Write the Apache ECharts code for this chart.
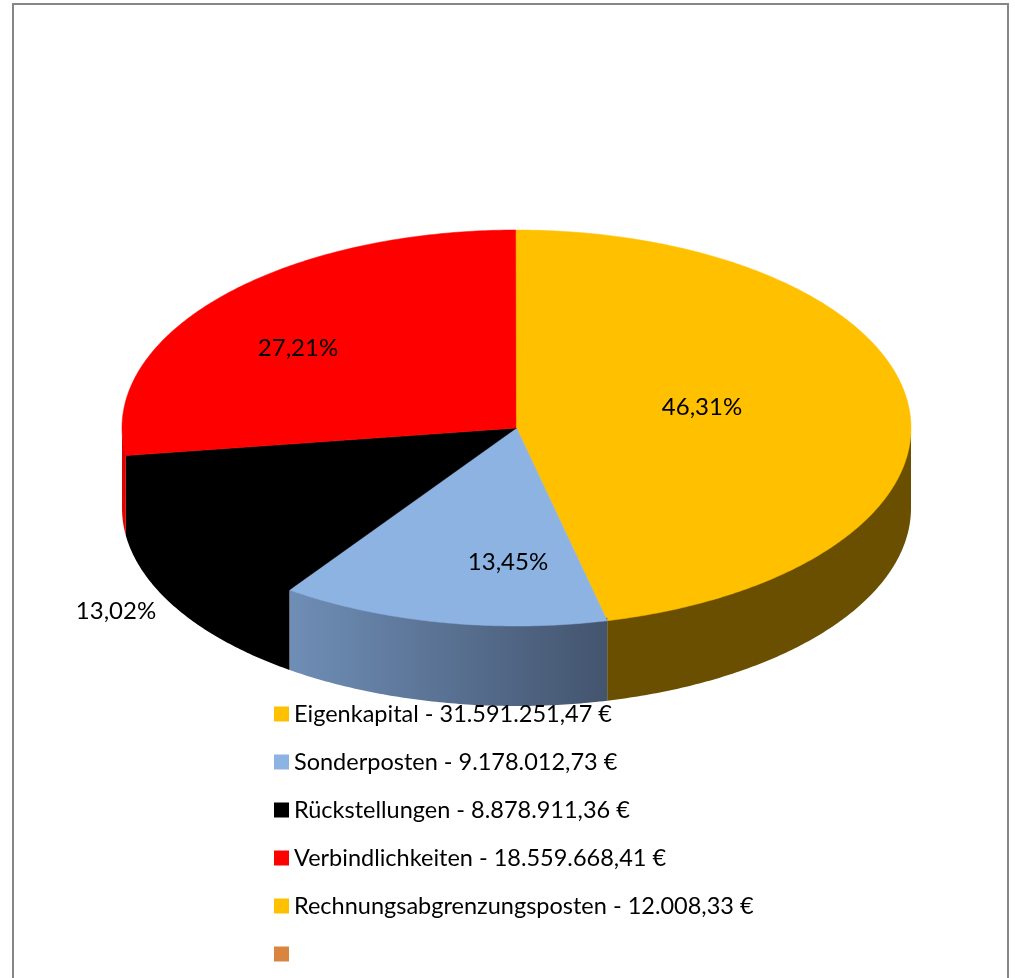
<!DOCTYPE html>
<html>
<head>
<meta charset="utf-8">
<style>
  html, body { margin: 0; padding: 0; background: #fff; }
  #chart { width: 1015px; height: 978px; }
</style>
<script src="https://cdn.jsdelivr.net/npm/echarts@6/dist/echarts.min.js"></script>
</head>
<body>
<div id="chart"></div>
<script>
// chart data
const categories = ['Eigenkapital', 'Sonderposten', 'Rückstellungen', 'Verbindlichkeiten', 'Rechnungsabgrenzungsposten']
const amounts = [31591251.47, 9178012.73, 8878911.36, 18559668.41, 12008.33]
const amountLabels = ['31.591.251,47 €', '9.178.012,73 €', '8.878.911,36 €', '18.559.668,41 €', '12.008,33 €']
const percentLabels = ['46,31%', '13,45%', '13,02%', '27,21%', '']

// styles
const topColors = ['#FFC000', '#8DB3E2', '#000000', '#FF0000', '#FFC000']
const emptyColor = '#D9853F'
const sideStops = [
  ['#6B4F00', '#6B4F00'],
  ['#6F8EB6', '#43546E'],
  ['#000000', '#000000'],
  ['#E00000', '#E00000'],
  ['#6B4F00', '#6B4F00']
]
const labelAnchors = [[702, 407], [508, 562], [116, 611], [298, 348], [0, 0]]

// pie geometry
const cx = 516.5
const cy = 428
const rx = 394.5
const ry = 198
const depth = 80
const FONT = 'Lato, "Open Sans", sans-serif'

const total = amounts.reduce((a, b) => a + b, 0)

function rimPoint(angle, drop) {
  return [cx + rx * Math.sin(angle), cy - ry * Math.cos(angle) + drop]
}

function arcPoints(from, to, drop) {
  const steps = Math.max(2, Math.ceil(Math.abs(to - from) / 0.01))
  const pts = []
  for (let i = 0; i <= steps; i++) {
    pts.push(rimPoint(from + (to - from) * i / steps, drop))
  }
  return pts
}

function sliceRange(index) {
  let before = 0
  for (let i = 0; i < index; i++) before += amounts[i]
  const start = before / total * Math.PI * 2
  return [start, start + amounts[index] / total * Math.PI * 2]
}

function renderSlice(index) {
  const [start, end] = sliceRange(index)
  const children = []

  // the wall is only seen on the front half of the rim
  const wallFrom = Math.max(start, Math.PI / 2)
  const wallTo = Math.min(end, Math.PI * 1.5)
  if (wallTo > wallFrom) {
    // starts a bit above the rim so no seam shows under the top face
    const wall = arcPoints(wallFrom, wallTo, -3).concat(arcPoints(wallTo, wallFrom, depth))
    children.push({
      type: 'polygon',
      shape: { points: wall },
      style: {
        fill: new echarts.graphic.LinearGradient(0, 0, 1, 0, [
          { offset: 0, color: sideStops[index][0] },
          { offset: 1, color: sideStops[index][1] }
        ])
      }
    })
  }

  children.push({
    type: 'polygon',
    shape: { points: [[cx, cy]].concat(arcPoints(start, end, 0)) },
    style: { fill: topColors[index], stroke: topColors[index], lineWidth: 0.5 }
  })

  if (percentLabels[index]) {
    children.push({
      type: 'text',
      z2: 10,
      x: labelAnchors[index][0],
      y: labelAnchors[index][1],
      style: {
        text: percentLabels[index],
        fill: '#000',
        font: '24px ' + FONT,
        align: 'center',
        verticalAlign: 'middle'
      }
    })
  }
  return { type: 'group', children }
}

const series = categories.map((name, i) => ({
  type: 'custom',
  name: name + ' - ' + amountLabels[i],
  coordinateSystem: 'none',
  itemStyle: { color: topColors[i] },
  data: [[amounts[i]]],
  renderItem: () => renderSlice(i)
}))

// last legend entry of the source has a swatch but no text
series.push({
  type: 'custom',
  name: ' ',
  coordinateSystem: 'none',
  itemStyle: { color: emptyColor },
  data: [],
  renderItem: () => ({ type: 'group', children: [] })
})

const chart = echarts.init(document.getElementById('chart'))
chart.setOption({
  animation: false,
  backgroundColor: '#fff',
  graphic: [{
    type: 'rect',
    silent: true,
    z: -1,
    shape: { x: 13, y: 4, width: 995, height: 1100 },
    style: { fill: 'none', stroke: '#868686', lineWidth: 2 }
  }],
  legend: {
    orient: 'vertical',
    left: 274,
    top: 699,
    padding: 0,
    icon: 'rect',
    itemWidth: 15,
    itemHeight: 15,
    itemGap: 18,
    selectedMode: false,
    textStyle: { color: '#000', fontSize: 23.5, fontFamily: FONT, lineHeight: 30 },
    data: series.map(s => s.name)
  },
  series
})
</script>
</body>
</html>
